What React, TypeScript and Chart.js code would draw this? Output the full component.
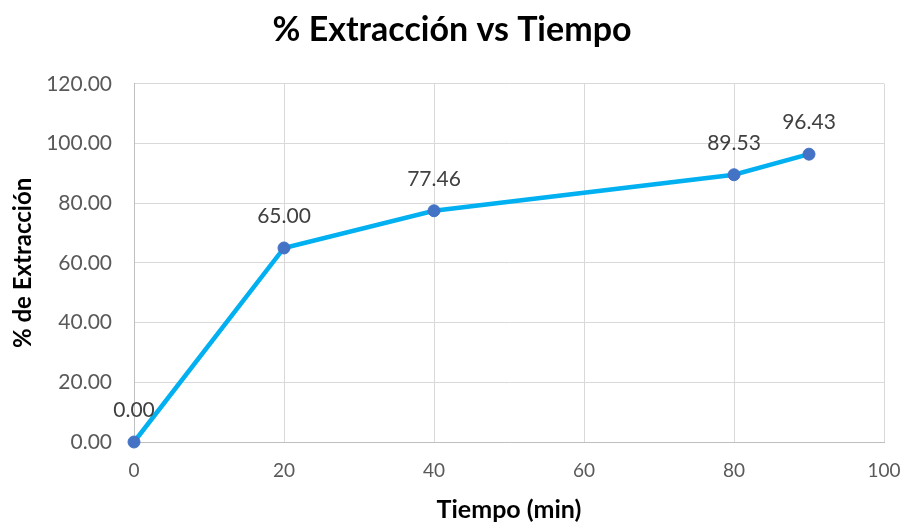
import React, { useEffect, useRef } from "react";
import { Chart, registerables } from "chart.js";

Chart.register(...registerables);

const tiempos = [0, 20, 40, 80, 90];
const extraccion = [0.0, 65.0, 77.46, 89.53, 96.43];
const yMin = 0;
const yMax = 120;
const yStep = 20;
const xMin = 0;
const xMax = 100;
const xStep = 20;

const FONT = "Lato, 'Open Sans', sans-serif";

const dataLabels = {
  id: "dataLabels",
  afterDatasetsDraw(chart: any) {
    const ctx = chart.ctx;
    const meta = chart.getDatasetMeta(0);
    ctx.save();
    ctx.font = `21px ${FONT}`;
    ctx.fillStyle = "#404040";
    ctx.textAlign = "center";
    ctx.textBaseline = "middle";
    meta.data.forEach((pt: any, i: number) => {
      const v = chart.data.datasets[0].data[i].y as number;
      ctx.fillText(v.toFixed(2), pt.x, pt.y - 32);
    });
    ctx.restore();
  },
};

export default function App() {
  const ref = useRef<HTMLCanvasElement>(null);
  useEffect(() => {
    if (!ref.current) return;
    const chart = new Chart(ref.current, {
      type: "scatter",
      data: {
        datasets: [
          {
            data: tiempos.map((t, i) => ({ x: t, y: extraccion[i] })),
            showLine: true,
            clip: false,
            borderColor: "#00B0F0",
            borderWidth: 4.5,
            pointRadius: 6,
            pointBackgroundColor: "#4472C4",
            pointBorderColor: "#4472C4",
            pointBorderWidth: 1,
            tension: 0,
          },
        ],
      },
      options: {
        animation: false,
        responsive: true,
        maintainAspectRatio: false,
        layout: { padding: { left: 0, right: 0, top: 0, bottom: 0 } },
        plugins: {
          legend: { display: false },
          tooltip: { enabled: false },
          title: {
            display: true,
            text: "% Extracción vs Tiempo",
            color: "#000000",
            font: { family: FONT, size: 34, weight: "bold" },
            padding: { top: 10, bottom: 33 },
          },
        },
        scales: {
          x: {
            type: "linear",
            min: xMin,
            max: xMax,
            ticks: {
              stepSize: xStep,
              color: "#595959",
              font: { family: FONT, size: 19 },
              padding: 17,
            },
            grid: { color: "#D9D9D9", drawTicks: false, lineWidth: 1 },
            border: { color: "#BFBFBF" },
            title: {
              display: true,
              text: "Tiempo (min)",
              color: "#000000",
              font: { family: FONT, size: 25, weight: "bold" },
              padding: { top: 2, bottom: 0 },
            },
            afterFit(scale: any) {
              scale.height = 83;
              scale.paddingLeft = 0;
              scale.paddingRight = 20;
            },
          },
          y: {
            type: "linear",
            min: yMin,
            max: yMax,
            ticks: {
              stepSize: yStep,
              color: "#595959",
              font: { family: FONT, size: 21 },
              padding: 22,
              callback: (v: any) => Number(v).toFixed(2),
            },
            grid: { color: "#D9D9D9", drawTicks: false, lineWidth: 1 },
            border: { color: "#BFBFBF" },
            title: {
              display: true,
              text: "% de Extracción",
              color: "#000000",
              font: { family: FONT, size: 24, weight: "bold" },
              padding: { top: 9, bottom: 4 },
            },
            afterFit(scale: any) {
              scale.width = 134;
            },
          },
        },
      },
      plugins: [dataLabels],
    });
    return () => chart.destroy();
  }, []);
  return (
    <div style={{ position: "absolute", left: 0, top: 0, width: 904, height: 525, background: "#fff" }}>
      <canvas ref={ref} />
    </div>
  );
}
